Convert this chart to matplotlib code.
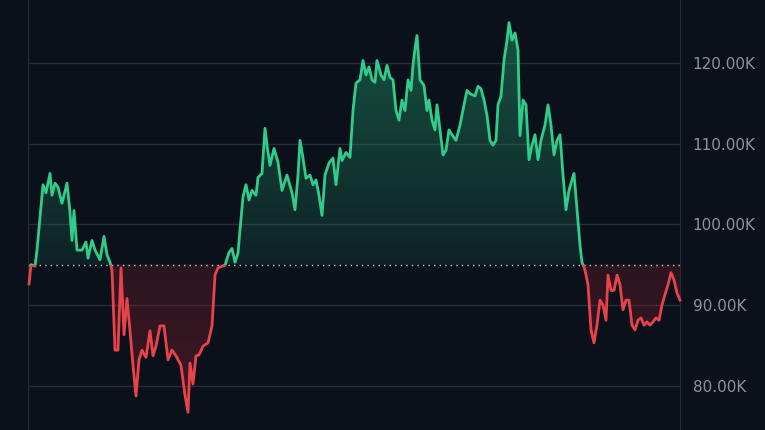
import numpy as np
import matplotlib
matplotlib.use("Agg")
import matplotlib.pyplot as plt
from matplotlib.patches import Rectangle
from matplotlib.path import Path
from matplotlib.ticker import FuncFormatter

# day offsets and price in thousands
days = [0, 2, 6, 8, 11, 14, 17, 21, 23, 26, 29, 33, 38, 41, 43, 45, 48, 53, 57, 59, 63, 66,
        71, 75, 78, 81, 83, 86, 89, 92, 95, 98, 101, 104, 107, 110, 113, 117, 121, 124, 127,
        131, 135, 139, 143, 147, 152, 156, 159, 161, 164, 167, 170, 174, 179, 183, 186, 189,
        193, 196, 200, 203, 206, 209, 211, 214, 217, 220, 223, 227, 229, 233, 236, 238, 241,
        245, 249, 253, 258, 263, 266, 269, 271, 274, 277, 281, 284, 287, 290, 293, 296, 300,
        304, 307, 311, 313, 317, 321, 324, 327, 331, 334, 337, 340, 343, 346, 348, 352, 355,
        358, 361, 364, 367, 370, 373, 376, 379, 382, 384, 386, 388, 391, 395, 398, 400, 403,
        406, 408, 411, 414, 417, 420, 423, 427, 431, 435, 438, 441, 446, 449, 452, 455, 458,
        461, 464, 467, 469, 472, 475, 478, 480, 483, 486, 489, 491, 494, 497, 500, 503, 506,
        509, 512, 516, 519, 522, 525, 528, 531, 534, 537, 540, 543, 545, 548, 551, 553, 556,
        559, 562, 565, 568, 571, 574, 577, 579, 582, 585, 588, 591, 594, 597, 600, 603, 606,
        609, 612, 615, 618, 621, 624, 627, 630, 633, 636, 639, 642, 645, 648, 651]
prices = [92.6, 95.0, 94.8, 96.8, 100.8, 104.9, 103.9, 106.3, 103.6, 105.1, 104.6, 102.6,
          105.1, 101.5, 98.0, 101.7, 96.8, 96.8, 97.8, 95.8, 98.0, 96.8, 95.6, 98.5, 96.2,
          95.3, 94.3, 84.4, 84.4, 94.6, 86.3, 90.8, 86.8, 82.5, 78.7, 83.2, 84.4, 83.5, 86.8,
          83.7, 84.9, 87.4, 87.4, 83.2, 84.4, 83.7, 82.5, 78.8, 76.7, 82.8, 80.2, 83.7, 83.8,
          84.9, 85.3, 87.4, 93.7, 94.6, 94.8, 94.9, 96.5, 97.0, 95.3, 96.4, 99.3, 103.4, 104.9,
          103.0, 104.2, 103.6, 105.8, 106.3, 111.9, 109.8, 107.3, 109.4, 107.7, 104.2, 106.1,
          103.9, 101.8, 106.1, 110.4, 108.2, 105.7, 106.1, 104.9, 105.5, 103.6, 101.1, 106.1,
          107.6, 108.2, 104.9, 109.4, 107.9, 108.9, 108.3, 114.1, 117.5, 117.9, 120.3, 118.5,
          119.5, 117.9, 117.6, 120.3, 118.5, 117.9, 119.7, 118.2, 117.9, 114.1, 112.9, 115.4,
          114.1, 117.9, 116.6, 119.7, 121.8, 123.4, 117.9, 117.2, 114.1, 115.4, 112.9, 111.7,
          114.8, 111.7, 108.6, 109.2, 111.7, 111.1, 110.4, 112.3, 114.8, 116.6, 116.2, 115.9,
          117.1, 116.8, 115.4, 113.5, 110.4, 109.8, 110.4, 114.8, 115.9, 120.3, 122.8, 125.0,
          122.8, 123.7, 121.6, 111.0, 115.4, 114.8, 108.0, 109.8, 111.1, 108.0, 110.4, 112.3,
          114.8, 112.3, 108.6, 110.4, 111.1, 106.1, 101.8, 104.2, 105.5, 106.3, 101.8, 97.4,
          95.3, 94.3, 92.5, 86.9, 85.3, 87.5, 90.6, 90.0, 88.1, 93.7, 91.8, 91.8, 93.7, 92.5,
          89.4, 90.6, 90.6, 87.5, 86.9, 88.1, 88.4, 87.5, 87.9, 87.5, 87.9, 88.4, 88.1, 90.0,
          91.3, 92.5, 94.0, 93.1, 91.5, 90.6]
baseline = 95.0
yticks = [80, 90, 100, 110, 120]

bg = "#0b111b"
green = "#2fcc8a"
red = "#e8434b"
grid_c = "#262d38"

x = np.array(days, dtype=float)
y = np.array(prices)
ymin, ymax = 74.5, 127.8

fig = plt.figure(figsize=(7.65, 4.30), dpi=100, facecolor=bg)
ax = fig.add_axes([28 / 765, 0, 652 / 765, 1])
ax.set_facecolor(bg)
ax.set_xlim(-1, x[-1])
ax.set_ylim(ymin, ymax)

for t in yticks:
    ax.axhline(t, color=grid_c, lw=1, zorder=0)

# gradient fills, clipped to the area between line and baseline
above = ax.fill_between(x, y, baseline, where=y >= baseline, interpolate=True, color="none")
below = ax.fill_between(x, y, baseline, where=y <= baseline, interpolate=True, color="none")
ext = [x[0], x[-1], ymin, ymax]
vals = ymin + np.linspace(0, 1, 256)[:, None] * (ymax - ymin)

ga = np.zeros((256, 1, 4))
ga[..., 0], ga[..., 1], ga[..., 2] = 0.15, 0.65, 0.45
ga[..., 3] = np.clip((vals - baseline) / (ymax - baseline), 0, 1) * 0.35 + 0.12
im1 = ax.imshow(ga, extent=ext, origin="lower", aspect="auto", zorder=1)
im1.set_clip_path(Path.make_compound_path(*above.get_paths()), transform=ax.transData)

ra = np.zeros((256, 1, 4))
ra[..., 0], ra[..., 1], ra[..., 2] = 0.7, 0.15, 0.2
ra[..., 3] = np.clip((baseline - vals) / (baseline - ymin), 0, 1) * 0.12 + 0.2
im2 = ax.imshow(ra, extent=ext, origin="lower", aspect="auto", zorder=1)
im2.set_clip_path(Path.make_compound_path(*below.get_paths()), transform=ax.transData)

# line, green above baseline, red below
l1, = ax.plot(x, y, color=green, lw=2, zorder=3)
l1.set_clip_path(Rectangle((-10, baseline), x[-1] + 20, 100, transform=ax.transData))
l2, = ax.plot(x, y, color=red, lw=2, zorder=3)
l2.set_clip_path(Rectangle((-10, 0), x[-1] + 20, baseline, transform=ax.transData))

ax.axhline(baseline, color="#c8ccd2", lw=1, ls=(0, (1, 3)), zorder=2)

ax.set_xticks([])
ax.set_yticks(yticks)
ax.yaxis.tick_right()
ax.yaxis.set_major_formatter(FuncFormatter(lambda v, p: f"{v:.2f}K"))
ax.tick_params(axis="y", length=0, pad=9, labelsize=11, labelcolor="#8c939d")
for s in ["top", "bottom"]:
    ax.spines[s].set_visible(False)
for s in ["left", "right"]:
    ax.spines[s].set_color(grid_c)

fig.savefig("out.png", dpi=100, facecolor=bg)
